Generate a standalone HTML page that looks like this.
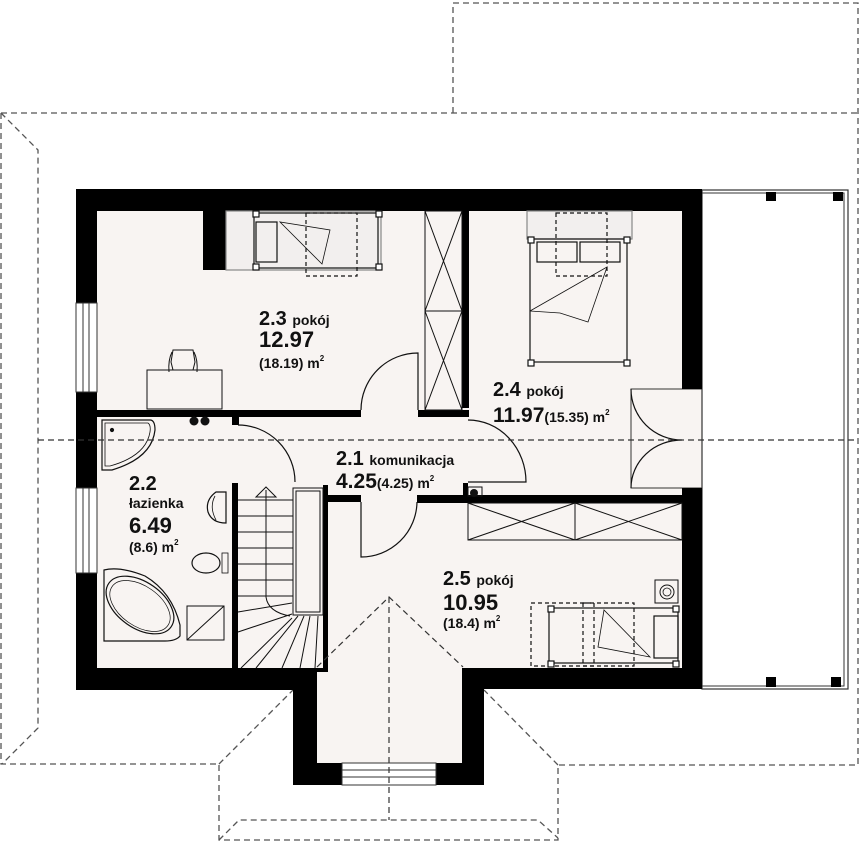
<!DOCTYPE html>
<html><head><meta charset="utf-8"><style>
html,body{margin:0;padding:0;background:#fff;}
svg{display:block;}
text{font-family:"Liberation Sans",sans-serif;font-weight:bold;fill:#111;}
</style></head><body>
<svg width="860" height="841" viewBox="0 0 860 841" xmlns="http://www.w3.org/2000/svg">
<!-- roof dashed outline -->
<g fill="none" stroke="#555" stroke-width="1.3" stroke-dasharray="6,4">
<polyline points="453,113 453,3 858,3 858,765"/>
<line x1="1" y1="113" x2="858" y2="113"/>
<polyline points="1,113 1,764 219,764 219,840 558,840 558,765 858,765"/>
<polyline points="1,113 38,150 38,728 2,764"/>
<line x1="219" y1="764" x2="293" y2="690"/>
<line x1="558" y1="765" x2="484" y2="690"/>
<polyline points="219,840 239,820 538,820 558,838"/>
</g>
<!-- room floors -->
<rect x="97" y="211" width="585" height="457" fill="#f8f4f2"/>
<rect x="317" y="660" width="145" height="103" fill="#f8f4f2"/>
<rect x="631" y="389" width="71" height="99" fill="#f8f4f2" stroke="#333" stroke-width="1"/>
<!-- balcony -->
<rect x="702" y="190" width="146" height="499" fill="#fff" stroke="#333" stroke-width="1.2"/>
<rect x="702" y="193" width="142" height="493" fill="none" stroke="#333" stroke-width="1"/>
<rect x="766" y="192" width="10" height="9" fill="#000"/>
<rect x="833" y="192" width="10" height="9" fill="#000"/>
<rect x="766" y="677" width="10" height="10" fill="#000"/>
<rect x="831" y="677" width="10" height="10" fill="#000"/>
<!-- outer walls -->
<g fill="#000">
<rect x="76" y="189" width="626" height="22"/>
<rect x="76" y="189" width="21" height="501"/>
<rect x="682" y="189" width="20" height="200"/>
<rect x="682" y="488" width="20" height="201"/>
<rect x="76" y="668" width="240" height="22"/>
<rect x="463" y="668" width="239" height="21"/>
<rect x="293" y="668" width="24" height="117"/>
<rect x="462" y="668" width="22" height="117"/>
<rect x="293" y="763" width="49" height="22"/>
<rect x="436" y="763" width="48" height="22"/>
<!-- interior -->
<rect x="203" y="211" width="23" height="59"/>
<rect x="462" y="211" width="7" height="197"/>
<rect x="97" y="410" width="264" height="7"/>
<rect x="418" y="410" width="51" height="7"/>
<rect x="232" y="417" width="7" height="8"/>
<rect x="232" y="483" width="6" height="185"/>
<rect x="323" y="485" width="5" height="187"/>
<rect x="328" y="495" width="33" height="7"/>
<rect x="417" y="495" width="265" height="8"/>
<rect x="463" y="483" width="5" height="20"/>
<rect x="310" y="668" width="18" height="4"/>
</g>
<!-- windows -->
<g fill="#fff" stroke="#333" stroke-width="1">
<rect x="76" y="303" width="21" height="89"/>
<rect x="76" y="488" width="21" height="85"/>
<rect x="342" y="763" width="94" height="22"/>
</g>
<g stroke="#333" stroke-width="1">
<line x1="83" y1="303" x2="83" y2="392"/><line x1="89" y1="303" x2="89" y2="392"/>
<line x1="83" y1="488" x2="83" y2="573"/><line x1="89" y1="488" x2="89" y2="573"/>
<line x1="342" y1="770" x2="436" y2="770"/><line x1="342" y1="777" x2="436" y2="777"/>
</g>
<!-- doors -->
<g fill="none" stroke="#111" stroke-width="1.2">
<path d="M361,410 A57,57 0 0 1 418,353 L418,410"/>
<path d="M238,425 A57,57 0 0 1 295,482"/>
<path d="M361,502 L361,557 A56,56 0 0 0 417,502"/>
<path d="M468,420 A58,62 0 0 1 526,482 L468,482"/>
<path d="M631,389 A51,51 0 0 0 682,440 A51,48 0 0 0 631,488"/>
</g>
<!-- wardrobes -->
<g fill="none" stroke="#111" stroke-width="1">
<rect x="425" y="211" width="37" height="199"/>
<path d="M425,211 L462,311 M462,211 L425,311 M425,311 L462,410 M462,311 L425,410 M425,311 L462,311"/>
<rect x="468" y="503" width="214" height="37"/>
<path d="M468,503 L575,540 M575,503 L468,540 M575,503 L682,540 M682,503 L575,540 M575,503 L575,540"/>
</g>
<!-- bed 2.3 -->
<g fill="none" stroke="#111" stroke-width="1.2">
<rect x="226" y="211" width="155" height="59" fill="#f2efee" stroke="#888"/>
<rect x="254" y="213" width="124" height="55"/>
<rect x="256" y="222" width="21" height="40"/>
<path d="M280,222 L322,264 L330,230 Z" stroke-width="0.8"/>
<rect x="306" y="213" width="51" height="63" stroke-dasharray="4,3"/>
<rect x="253" y="211" width="6" height="6" fill="#fff"/><rect x="376" y="211" width="6" height="6" fill="#fff"/>
<rect x="253" y="264" width="6" height="6" fill="#fff"/><rect x="376" y="264" width="6" height="6" fill="#fff"/>
</g>
<!-- desk and chair -->
<g fill="none" stroke="#111" stroke-width="1">
<rect x="147" y="370" width="75" height="39"/>
<path d="M173,350 L193,350 L195,362 L193,370 L173,370 L171,362 Z"/>
<path d="M169,372 Q168,360 172,352 M197,372 Q198,360 194,352"/>
</g>
<!-- double bed 2.4 -->
<g fill="none" stroke="#111" stroke-width="1.2">
<rect x="527" y="211" width="105" height="28" fill="#f2efee" stroke="#888"/>
<rect x="530" y="239" width="97" height="123"/>
<rect x="537" y="242" width="40" height="20"/><rect x="580" y="242" width="40" height="20"/>
<rect x="556" y="213" width="51" height="63" stroke-dasharray="4,3"/>
<path d="M530,311 L607,267 L588,322 L560,313 L530,311" stroke-width="0.8"/>
<rect x="528" y="237" width="6" height="6" fill="#fff"/><rect x="624" y="237" width="6" height="6" fill="#fff"/>
<rect x="528" y="360" width="6" height="6" fill="#fff"/><rect x="624" y="360" width="6" height="6" fill="#fff"/>
</g>
<!-- single bed 2.5 -->
<g fill="none" stroke="#111" stroke-width="1.2">
<rect x="549" y="608" width="129" height="55"/>
<rect x="654" y="616" width="24" height="42"/>
<path d="M604,610 L598,647 L650,657 Z" stroke-width="0.8"/>
<rect x="531" y="603" width="63" height="63" stroke-dasharray="4,3"/>
<rect x="583" y="603" width="51" height="63" stroke-dasharray="4,3"/>
<rect x="548" y="606" width="6" height="6" fill="#fff"/><rect x="673" y="606" width="6" height="6" fill="#fff"/>
<rect x="548" y="661" width="6" height="6" fill="#fff"/><rect x="673" y="661" width="6" height="6" fill="#fff"/>
<rect x="655" y="580" width="23" height="23" stroke-width="1"/>
<circle cx="667" cy="592" r="7" stroke-width="1"/><circle cx="667" cy="592" r="4" stroke-width="0.8"/>
</g>
<!-- bathroom fixtures -->
<g fill="none" stroke="#111" stroke-width="1.2">
<path d="M102,420 L150,420 Q155,420 155,430 Q152,458 112,470 L102,470 Z"/>
<path d="M105,423 L148,423 Q151,425 150,432 Q146,456 110,466 L105,466 Z" stroke-width="0.8"/>
<circle cx="112" cy="430" r="1.5" fill="#111"/>
<path d="M226,492 L216,492 Q205,500 208,512 Q212,523 226,523 Z"/>
<path d="M215,496 Q209,507 216,520" stroke-width="0.8"/>
<ellipse cx="206" cy="563" rx="14" ry="10"/>
<rect x="222" y="553" width="6" height="20" stroke-width="0.8"/>
<path d="M104,570 Q120,566 145,576 Q172,592 180,625 L180,636 Q176,641 165,641 L104,641 Z"/>
<ellipse cx="140" cy="605" rx="38" ry="23" transform="rotate(35 140 605)"/>
<ellipse cx="140" cy="606" rx="34" ry="20" transform="rotate(35 140 606)" stroke-width="0.7"/>
<rect x="187" y="606" width="37" height="34" stroke-width="1"/>
<line x1="187" y1="640" x2="224" y2="606" stroke-width="1"/>
</g>
<circle cx="194" cy="421" r="4.5" fill="#111"/><circle cx="205" cy="421" r="4.5" fill="#111"/>
<rect x="468" y="487" width="14" height="9" fill="none" stroke="#111"/>
<circle cx="474" cy="493" r="4" fill="#111"/>
<!-- stairs -->
<g fill="none" stroke="#111" stroke-width="1">
<rect x="293" y="488" width="30" height="127"/>
<rect x="296" y="491" width="24" height="121"/>
<path d="M238,500 L293,500 M238,516 L293,516 M238,532 L293,532 M238,548 L293,548 M238,564 L293,564 M238,580 L293,580 M238,596 L293,596"/>
<path d="M238,612 L292,603 M238,632 L292,614 M241,668 L292,618 M256,668 L298,616 M282,668 L304,616 M300,668 L310,616 M315,668 L318,616"/>
<path d="M266,490 L266,597 Q268,612 290,616"/>
<path d="M256,497 L266,487 L276,497 Z"/>
</g>
<!-- center dashed -->
<g fill="none" stroke="#333" stroke-width="1.2" stroke-dasharray="6,4">
<line x1="38" y1="440" x2="858" y2="440"/>
<polyline points="317,667 389,597 463,667"/>
<line x1="389" y1="597" x2="389" y2="820"/>
</g>
<!-- labels -->
<text x="259" y="325" font-size="20">2.3 <tspan font-size="14">pokój</tspan></text>
<text x="259" y="347" font-size="22">12.97</text>
<text x="259" y="368" font-size="14">(18.19) m<tspan font-size="8" dy="-7">2</tspan></text>
<text x="493" y="396" font-size="20">2.4 <tspan font-size="14">pokój</tspan></text>
<text x="493" y="422" font-size="21">11.97<tspan font-size="14">(15.35) m</tspan><tspan font-size="8" dy="-7">2</tspan></text>
<text x="336" y="465" font-size="20">2.1 <tspan font-size="14">komunikacja</tspan></text>
<text x="336" y="488" font-size="21">4.25<tspan font-size="14">(4.25) m</tspan><tspan font-size="8" dy="-7">2</tspan></text>
<text x="129" y="490" font-size="20">2.2</text>
<text x="129" y="508" font-size="14">łazienka</text>
<text x="129" y="533" font-size="22">6.49</text>
<text x="129" y="552" font-size="14">(8.6) m<tspan font-size="8" dy="-7">2</tspan></text>
<text x="443" y="585" font-size="20">2.5 <tspan font-size="14">pokój</tspan></text>
<text x="443" y="610" font-size="22">10.95</text>
<text x="443" y="628" font-size="14">(18.4) m<tspan font-size="8" dy="-7">2</tspan></text>
</svg>
</body></html>
